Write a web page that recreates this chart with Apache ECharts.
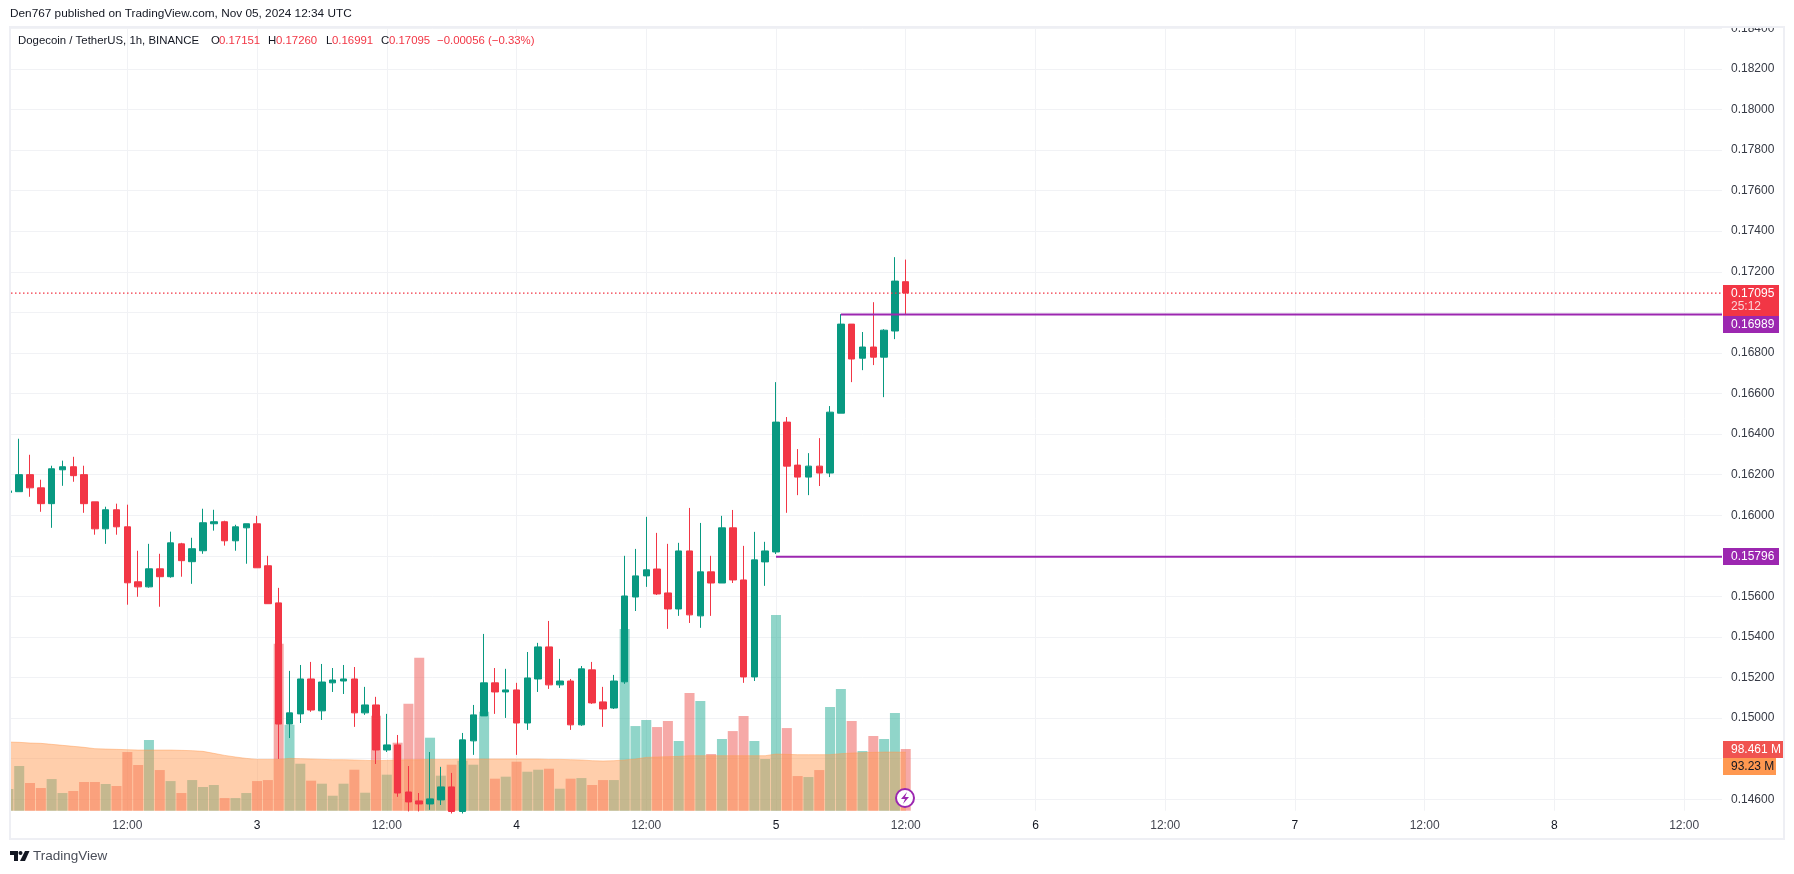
<!DOCTYPE html>
<html>
<head>
<meta charset="utf-8">
<title>Dogecoin / TetherUS</title>
<style>
html, body { margin: 0; padding: 0; background: #fff; }
#chart { width: 1794px; height: 874px; }
</style>
<script src="https://cdn.jsdelivr.net/npm/echarts@6/dist/echarts.min.js"></script>
</head>
<body>
<div id="chart"></div>
<script>
// hourly candles from Nov 2 01:00 to Nov 5 12:00
var opens = [0.16112,0.16116,0.16200,0.16135,0.16057,0.16224,0.16239,0.16200,0.16066,0.15933,0.16027,0.15943,
  0.15672,0.15647,0.15736,0.15697,0.15859,0.15771,0.15825,0.15958,0.15968,0.15874,0.15938,0.15958,
  0.15751,0.15568,0.14971,0.15021,0.15193,0.15036,0.15174,0.15183,0.15193,0.15026,0.15065,0.14843,
  0.14868,0.14636,0.14592,0.14577,0.14597,0.14661,0.14540,0.14888,0.15011,0.15174,0.15129,0.15139,
  0.14976,0.15193,0.15351,0.15164,0.15183,0.14967,0.15238,0.15080,0.15050,0.15179,0.15597,0.15701,
  0.15735,0.15617,0.15538,0.15824,0.15504,0.15721,0.15666,0.15938,0.15681,0.15203,0.15770,0.15819,
  0.16459,0.16247,0.16188,0.16242,0.16208,0.16503,0.16942,0.16774,0.16829,0.16779,0.16908,0.17151];
var closes = [0.16120,0.16200,0.16135,0.16057,0.16229,0.16239,0.16195,0.16057,0.15933,0.16027,0.15943,0.15667,
  0.15647,0.15736,0.15697,0.15864,0.15776,0.15835,0.15963,0.15968,0.15874,0.15943,0.15958,0.15741,
  0.15564,0.14971,0.15026,0.15193,0.15040,0.15178,0.15188,0.15193,0.15026,0.15065,0.14843,0.14868,
  0.14631,0.14587,0.14577,0.14602,0.14661,0.14540,0.14893,0.15016,0.15174,0.15129,0.15139,0.14976,
  0.15198,0.15351,0.15164,0.15183,0.14967,0.15243,0.15075,0.15045,0.15183,0.15602,0.15701,0.15731,
  0.15612,0.15538,0.15824,0.15509,0.15721,0.15666,0.15938,0.15681,0.15203,0.15780,0.15824,0.16459,
  0.16242,0.16188,0.16242,0.16208,0.16508,0.16942,0.16770,0.16829,0.16779,0.16912,0.17154,0.17095];
var lows = [0.16105,0.16116,0.16091,0.16017,0.15938,0.16145,0.16165,0.16012,0.15904,0.15859,0.15904,0.15559,
  0.15598,0.15643,0.15549,0.15692,0.15697,0.15662,0.15810,0.15924,0.15850,0.15825,0.15761,0.15741,
  0.15564,0.14799,0.14902,0.14976,0.15031,0.14991,0.15129,0.15119,0.14957,0.15016,0.14774,0.14833,
  0.14612,0.14540,0.14540,0.14548,0.14572,0.14530,0.14530,0.14819,0.15011,0.15021,0.15001,0.14819,
  0.14942,0.15129,0.15144,0.15149,0.14942,0.14962,0.15070,0.14957,0.15045,0.15169,0.15528,0.15647,
  0.15607,0.15440,0.15504,0.15469,0.15445,0.15504,0.15666,0.15666,0.15174,0.15183,0.15652,0.15809,
  0.16012,0.16099,0.16099,0.16144,0.16188,0.16503,0.16656,0.16715,0.16740,0.16582,0.16868,0.16991];
var highs = [0.16125,0.16377,0.16298,0.16175,0.16244,0.16269,0.16288,0.16244,0.16066,0.16042,0.16057,0.16052,
  0.15825,0.15859,0.15810,0.15919,0.15864,0.15889,0.16032,0.16027,0.15973,0.15953,0.15958,0.15997,
  0.15800,0.15642,0.15233,0.15262,0.15277,0.15267,0.15247,0.15262,0.15252,0.15154,0.15105,0.15021,
  0.14917,0.14764,0.14631,0.14833,0.14760,0.14730,0.14927,0.15065,0.15415,0.15247,0.15243,0.15174,
  0.15326,0.15371,0.15479,0.15292,0.15193,0.15257,0.15277,0.15154,0.15213,0.15800,0.15834,0.15992,
  0.15913,0.15859,0.15864,0.16036,0.15962,0.15800,0.15997,0.16026,0.15849,0.15918,0.15869,0.16656,
  0.16484,0.16326,0.16306,0.16380,0.16538,0.16991,0.16942,0.16903,0.17050,0.16917,0.17272,0.17260];

// volume and its moving average, millions
var volumes = [34.6,71.3,44.2,36.2,50.5,28.2,31.4,45.8,45.8,42.6,39.4,93.6,
  72.9,112.8,64.9,47.3,28.2,48.9,37.8,41.0,20.2,20.2,28.2,47.3,
  48.9,266.5,137.3,75.0,47.9,43.1,23.9,43.1,65.4,28.7,151.6,57.5,
  108.5,170.8,244.2,116.5,55.9,73.4,79.8,73.4,158.0,51.1,54.3,78.2,
  62.2,65.4,67.0,35.1,51.1,52.1,41.0,48.9,48.9,289.9,135.1,144.7,
  133.5,143.1,111.2,187.8,175.0,90.4,114.4,127.1,151.1,111.2,82.5,312.3,
  131.9,55.3,53.7,64.9,165.5,194.2,143.1,95.2,119.2,114.4,155.9,98.461];
var volumeMa = [109.6,109.1,108.0,107.5,105.9,104.3,102.7,101.1,99.0,98.4,97.9,97.4,
  96.8,96.8,96.8,96.8,96.3,95.8,94.7,91.5,88.3,85.7,83.5,81.9,
  81.9,81.9,83.5,83.0,82.5,81.9,81.4,81.4,80.9,80.3,79.8,80.3,
  80.9,81.4,81.4,81.9,81.9,81.9,82.5,82.5,82.5,82.5,82.5,82.5,
  82.5,82.5,81.9,81.9,81.4,80.9,79.8,79.3,79.8,80.9,82.5,85.1,
  85.7,86.2,86.7,87.8,87.8,87.8,87.8,87.8,87.8,87.8,87.8,90.4,
  89.9,89.4,89.4,89.4,89.4,91.0,92.0,92.6,93.1,93.6,93.6,93.23];

var priceTicks = [0.146,0.148,0.150,0.152,0.154,0.156,0.158,0.160,0.162,0.164,0.166,0.168,0.170,0.172,0.174,0.176,0.178,0.180,0.182,0.184];
var lastPrice = 0.17095;
var levelHigh = 0.16989, levelHighFrom = 78;
var levelLow = 0.15796, levelLowFrom = 72;

var UP = '#089981', DOWN = '#F23645', PURPLE = '#9C27B0', GRID = '#F1F2F5', FRAME = '#EEEFF4';
var TEXT = '#131722', FONT = '"Liberation Sans", Arial, sans-serif';
var AXIS_END = 159;

var categories = [];
for (var h = 1; h <= AXIS_END; h++) {
  if (h % 24 === 0) categories.push(String(2 + h / 24));
  else categories.push((h % 24 < 10 ? '0' : '') + (h % 24) + ':00');
}
function every12h(i) { return (i + 1) % 12 === 0; }

var candles = opens.map(function (o, i) { return [o, closes[i], lows[i], highs[i]]; });
var volumeBars = volumes.map(function (v, i) {
  return { value: v, itemStyle: { color: closes[i] >= opens[i] ? '#22AB94' : '#EE5350', opacity: 0.5 } };
});

var chart = echarts.init(document.getElementById('chart'), null, { renderer: 'canvas' });

function tag(x, y, w, hh, fill) {
  return { type: 'rect', z: 102, silent: true, shape: { x: x, y: y, width: w, height: hh }, style: { fill: fill } };
}
function tagText(x, y, text, fill) {
  return { type: 'text', z: 103, silent: true, x: x, y: y, style: { text: text, fill: fill, font: '12px ' + FONT, textVerticalAlign: 'middle' } };
}
function headText(x, text, fill) {
  return { type: 'text', z: 103, silent: true, x: x, y: 41, style: { text: text, fill: fill, font: '11.4px ' + FONT, textVerticalAlign: 'middle' } };
}

chart.setOption({
  animation: false,
  backgroundColor: '#fff',
  grid: { left: 3, right: 72, top: 26, bottom: 63.3 },
  xAxis: [{
    type: 'category',
    data: categories,
    boundaryGap: true,
    axisLine: { show: false },
    axisTick: { show: false, alignWithLabel: true, interval: every12h },
    splitLine: { show: true, alignWithLabel: true, interval: every12h, lineStyle: { color: GRID, width: 1 } },
    axisLabel: {
      interval: every12h, margin: 9, hideOverlap: false, fontFamily: FONT, fontSize: 12, color: '#434651',
      formatter: function (v) { return v.indexOf(':') < 0 ? '{d|' + v + '}' : v; },
      rich: { d: { color: TEXT, fontFamily: FONT, fontSize: 12 } }
    }
  }, {
    // same span as the category axis, for the lines that run to the right edge
    type: 'value', show: false, min: 0.5, max: AXIS_END + 0.5
  }],
  yAxis: [{
    type: 'value', position: 'right', scale: true,
    min: 0.145438, max: 0.184112,
    axisLine: { show: false },
    axisTick: { show: false, customValues: priceTicks },
    splitLine: { show: true, lineStyle: { color: GRID, width: 1 } },
    axisLabel: {
      customValues: priceTicks, margin: 9, fontFamily: FONT, fontSize: 12, color: '#363A45',
      formatter: function (v) { return v.toFixed(5); }
    }
  }, {
    type: 'value', show: false, min: 0, max: 1252.4, splitLine: { show: false }
  }],
  graphic: [
    // left edge cut and top of the axis
    { type: 'rect', z: 100, silent: true, shape: { x: 0, y: 20, width: 10, height: 795 }, style: { fill: '#fff' } },
    { type: 'rect', z: 100, silent: true, shape: { x: 1722, y: 20, width: 62, height: 7 }, style: { fill: '#fff' } },
    { type: 'rect', z: 101, silent: true, shape: { x: 10, y: 27, width: 1774, height: 812 }, style: { fill: 'none', stroke: FRAME, lineWidth: 2 } },
    { type: 'text', z: 103, silent: true, x: 10, y: 14, style: { text: 'Den767 published on TradingView.com, Nov 05, 2024 12:34 UTC', fill: TEXT, font: '11.8px ' + FONT, textVerticalAlign: 'middle' } },

    headText(18, 'Dogecoin / TetherUS, 1h, BINANCE', TEXT),
    headText(211, 'O', TEXT), headText(219, '0.17151', DOWN),
    headText(268, 'H', TEXT), headText(276, '0.17260', DOWN),
    headText(326, 'L', TEXT), headText(332, '0.16991', DOWN),
    headText(381, 'C', TEXT), headText(389, '0.17095', DOWN),
    headText(437, '\u22120.00056 (\u22120.33%)', DOWN),

    tag(1723, 285, 56, 31, DOWN),
    tagText(1731, 294, '0.17095', '#fff'),
    tagText(1731, 307, '25:12', '#FBD5D8'),
    tag(1723, 316, 56, 17, PURPLE),
    tagText(1731, 325, '0.16989', '#fff'),
    tag(1723, 548, 56, 17, PURPLE),
    tagText(1731, 557, '0.15796', '#fff'),
    tag(1723, 741, 60, 17, '#F05350'),
    tagText(1731, 750, '98.461 M', '#fff'),
    tag(1723, 758, 53, 17, '#FF9850'),
    tagText(1731, 767, '93.23 M', TEXT),

    // lightning badge on the last bar
    { type: 'circle', z: 104, silent: true, shape: { cx: 905, cy: 798, r: 9 }, style: { fill: '#fff', stroke: PURPLE, lineWidth: 2 } },
    { type: 'polygon', z: 105, silent: true, shape: { points: [[907, 792], [901, 799], [905, 799], [903, 804], [909, 797], [905, 797]] }, style: { fill: PURPLE } },

    // TradingView logo
    { type: 'polygon', z: 104, silent: true, shape: { points: [[10, 851], [18, 851], [18, 861], [14, 861], [14, 855], [10, 855]] }, style: { fill: TEXT } },
    { type: 'circle', z: 104, silent: true, shape: { cx: 20.5, cy: 853, r: 2 }, style: { fill: TEXT } },
    { type: 'polygon', z: 104, silent: true, shape: { points: [[25, 851], [29.5, 851], [25, 861], [20, 861]] }, style: { fill: TEXT } },
    { type: 'text', z: 104, silent: true, x: 33, y: 856, style: { text: 'TradingView', fill: '#4A4E59', font: '13.5px ' + FONT, textVerticalAlign: 'middle' } }
  ],
  series: [{
    name: 'Volume', type: 'bar', xAxisIndex: 0, yAxisIndex: 1, z: 1,
    barWidth: 10, data: volumeBars, silent: true
  }, {
    name: 'Volume MA', type: 'line', xAxisIndex: 0, yAxisIndex: 1, z: 2,
    data: volumeMa, symbol: 'none', smooth: false, silent: true,
    lineStyle: { color: '#FF9850', width: 1, opacity: 0.45 },
    areaStyle: { color: '#FF9850', opacity: 0.48 }
  }, {
    name: 'DOGEUSDT', type: 'candlestick', xAxisIndex: 0, yAxisIndex: 0, z: 3,
    barWidth: 7, data: candles, silent: true,
    itemStyle: { color: UP, color0: DOWN, borderColor: UP, borderColor0: DOWN, borderWidth: 1 }
  }, {
    name: 'Last price', type: 'line', xAxisIndex: 1, yAxisIndex: 0, z: 4,
    data: [[0.5, lastPrice], [AXIS_END + 0.5, lastPrice]], symbol: 'none', silent: true,
    lineStyle: { color: DOWN, width: 1.2, type: [1.5, 2.5] }
  }, {
    name: 'Level high', type: 'line', xAxisIndex: 1, yAxisIndex: 0, z: 5,
    data: [[levelHighFrom, levelHigh], [AXIS_END + 0.5, levelHigh]], symbol: 'none', silent: true,
    lineStyle: { color: PURPLE, width: 2 }
  }, {
    name: 'Level low', type: 'line', xAxisIndex: 1, yAxisIndex: 0, z: 5,
    data: [[levelLowFrom, levelLow], [AXIS_END + 0.5, levelLow]], symbol: 'none', silent: true,
    lineStyle: { color: PURPLE, width: 2 }
  }]
});
</script>
</body>
</html>
